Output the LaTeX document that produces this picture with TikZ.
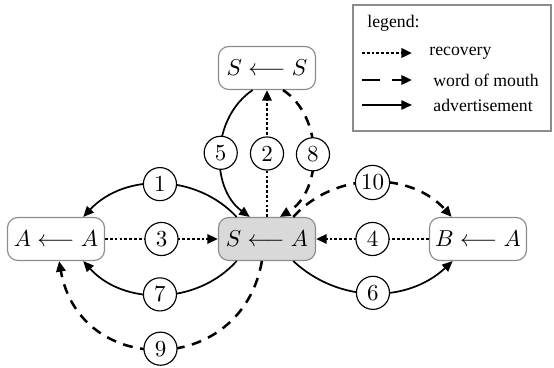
\documentclass[tikz,border=0pt]{standalone}
\usepackage{fontspec}
\newfontfamily\legfont{Liberation Serif}
\usetikzlibrary{arrows.meta}
\definecolor{boxline}{HTML}{8C8C8C}
\definecolor{boxfill}{HTML}{D9D9D9}
\tikzset{
  state/.style={draw=boxline, line width=0.5pt, rounded corners=4.5pt,
    minimum width=42.2pt, minimum height=18.7pt, inner sep=1pt, fill=white},
  num/.style={draw, solid, circle, fill=white, line width=0.5pt,
    minimum size=14.4pt, inner sep=1pt},
  tip/.style={-{Triangle[length=4.6pt,width=4pt]}},
  adv/.style={tip, line width=0.75pt},
  wom/.style={tip, line width=1.1pt, dash pattern=on 4.3pt off 3.3pt},
  rec/.style={tip, line width=1.25pt, dash pattern=on 1.2pt off 0.9pt},
  legtext/.style={anchor=west, inner sep=0pt, font=\legfont\fontsize{7.7}{9}\selectfont},
}
\begin{document}
\begin{tikzpicture}[x=0.435pt,y=0.435pt]
\useasboundingbox (0,0) rectangle (554,368);
% states
\node[state] (A) at (56,129) {$A \longleftarrow A$};
\node[state, fill=boxfill] (S) at (267,129) {$S \longleftarrow A$};
\node[state] (B) at (478,129) {$B \longleftarrow A$};
\node[state] (SS) at (267,300) {$S \longleftarrow S$};
% connectors
\draw[adv] (S.144) to[bend right=47] node[num] (n1) {1} (A.39);
\draw[rec] (S.north) -- node[num] (n2) {2} (SS.south);
\draw[rec] (A.east) -- node[num] (n3) {3} (S.west);
\draw[rec] (B.west) -- node[num] (n4) {4} (S.east);
\draw[adv] (SS.237.5) to[bend right=55] node[num] (n5) {5} (S.128);
\draw[adv] (S.320) to[bend right=43] node[num] (n6) {6} (B.221);
\draw[adv] (S.216) to[bend left=48] node[num] (n7) {7} (A.321);
\draw[wom] (SS.306) to[bend left=58] node[num] (n8) {8} (S.60);
\draw[wom] (S.257) to[out=-100,in=-80,looseness=1.5] node[num] (n9) {9} (A.278);
\draw[wom] (S.40) to[bend left=48] node[num] (n10) {10} (B.140);
% legend
\node[draw=boxline, line width=0.5pt, minimum width=86.1pt, minimum height=54.8pt, inner sep=0pt] (leg) at (452,300) {};
\node[legtext] (lt0) at (367,345) {legend:};
\coordinate (l1a) at (362,315); \coordinate (l1b) at (412,315);
\coordinate (l2a) at (362,288); \coordinate (l2b) at (412,288);
\coordinate (l3a) at (362,263); \coordinate (l3b) at (412,263);
\draw[rec] (l1a) -- (l1b);
\draw[tip, line width=1.1pt, dash pattern=on 8pt off 5pt] (l2a) -- (l2b);
\draw[adv] (l3a) -- (l3b);
\node[legtext] (lt1) at (429,315) {recovery};
\node[legtext] (lt2) at (433,288) {word of mouth};
\node[legtext] (lt3) at (433,263) {advertisement};
\end{tikzpicture}
\end{document}
